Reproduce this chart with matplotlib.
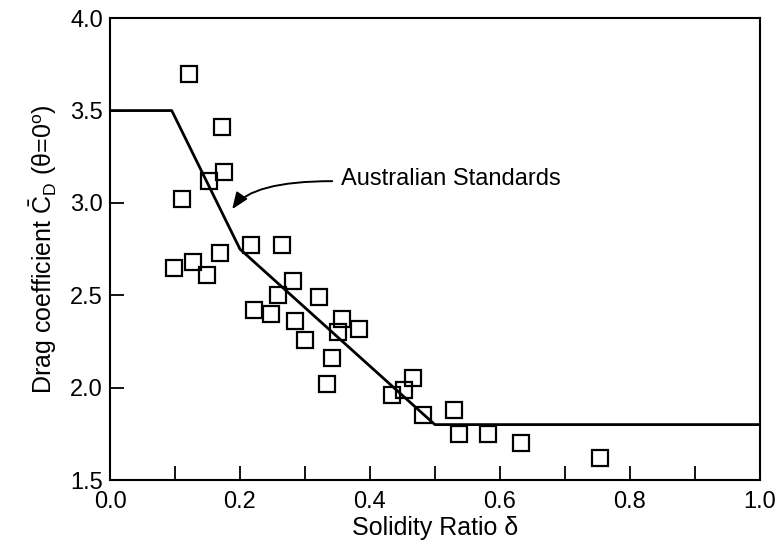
import matplotlib
matplotlib.use("Agg")
import matplotlib.pyplot as plt
from matplotlib.ticker import MultipleLocator

plt.rcParams["font.family"] = ["Liberation Sans", "DejaVu Sans"]
plt.rcParams["mathtext.fontset"] = "custom"
plt.rcParams["mathtext.rm"] = "Liberation Sans"
plt.rcParams["mathtext.it"] = "Liberation Sans:italic"

solidity = [0.122, 0.172, 0.175, 0.152, 0.111, 0.169, 0.098, 0.128, 0.149,
            0.217, 0.265, 0.282, 0.258, 0.222, 0.248, 0.285, 0.322, 0.357,
            0.383, 0.351, 0.300, 0.342, 0.334, 0.466, 0.452, 0.434, 0.481,
            0.530, 0.537, 0.582, 0.632, 0.754]
drag = [3.70, 3.41, 3.17, 3.12, 3.02, 2.73, 2.65, 2.68, 2.61,
        2.77, 2.77, 2.58, 2.50, 2.42, 2.40, 2.36, 2.49, 2.37,
        2.32, 2.30, 2.26, 2.16, 2.02, 2.05, 1.99, 1.96, 1.85,
        1.88, 1.75, 1.75, 1.70, 1.62]

# Australian Standards curve
std_x = [0.0, 0.095, 0.2, 0.5, 1.0]
std_y = [3.5, 3.5, 2.75, 1.8, 1.8]

fig = plt.figure(figsize=(7.76, 5.52), dpi=100)
ax = fig.add_axes([0.1418, 0.1304, 0.979 - 0.1418, 0.967 - 0.1304])

ax.plot(std_x, std_y, color="black", lw=2.0)
ax.plot(solidity, drag, linestyle="none", marker="s", ms=11,
        markerfacecolor="none", markeredgecolor="black", mew=1.6)

# label and curved arrow pointing at the standard curve
ax.text(0.356, 3.13, "Australian Standards", fontsize=17, va="center", ha="left")
ax.annotate("", xy=(0.188, 2.966), xytext=(0.342, 3.118),
            arrowprops=dict(arrowstyle="-|>,head_length=1.0,head_width=0.4",
                            color="black", lw=1.4, shrinkA=0, shrinkB=0,
                            connectionstyle="angle3,angleA=0,angleB=55"))

ax.set_xlim(0, 1.0)
ax.set_ylim(1.5, 4.0)
ax.xaxis.set_major_locator(MultipleLocator(0.2))
ax.xaxis.set_minor_locator(MultipleLocator(0.1))
ax.yaxis.set_major_locator(MultipleLocator(0.5))
ax.xaxis.set_major_formatter(plt.FormatStrFormatter("%.1f"))
ax.yaxis.set_major_formatter(plt.FormatStrFormatter("%.1f"))

ax.tick_params(axis="x", which="both", direction="in", length=10, width=1.3,
               top=False, pad=8, labelsize=17)
ax.tick_params(axis="y", which="both", direction="in", length=10, width=1.3,
               right=False, pad=5, labelsize=17)
for s in ax.spines.values():
    s.set_linewidth(1.5)

ax.set_xlabel("Solidity Ratio δ", fontsize=18, labelpad=2)
ax.set_ylabel(r"Drag coefficient $\bar{\mathrm{C}}_{\mathrm{D}}$ (θ=0$^{\mathrm{o}}$)",
              fontsize=18, labelpad=8)

fig.savefig("out.png", dpi=100)
